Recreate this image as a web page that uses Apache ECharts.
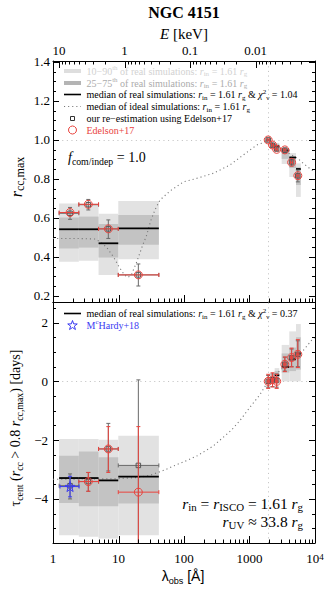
<!DOCTYPE html>
<html><head><meta charset="utf-8">
<script src="https://cdn.jsdelivr.net/npm/echarts@6/dist/echarts.min.js"></script>
<style>html,body{margin:0;padding:0;background:#fff}#c{width:332px;height:591px}</style>
</head><body><div id="c"></div>
<script>
// ================= DATA =================
// bins: 4 X-ray bins (5-10, 2.5-5, 1.25-2.5, 0.3-1.25 keV) + 6 UVOT bands (W2, M2, W1, U, B, V)
const binLo  = [1.24, 2.48, 4.96, 9.92, 1840, 2110, 2420, 3100, 4050, 5130];
const binHi  = [2.48, 4.96, 9.92, 41.3, 2010, 2400, 2850, 4050, 5130, 6070];
// top panel: r_cc,max simulation percentiles
const topP10 = [0.376, 0.380, 0.308, 0.388, 0.995, 0.964, 0.949, 0.877, 0.810, 0.708];
const topP25 = [0.444, 0.448, 0.397, 0.462, 0.997, 0.972, 0.959, 0.903, 0.856, 0.769];
const topP75 = [0.603, 0.607, 0.569, 0.615, 1.000, 0.985, 0.980, 0.952, 0.918, 0.860];
const topP90 = [0.674, 0.674, 0.621, 0.687, 1.000, 0.990, 0.985, 0.959, 0.933, 0.880];
const topMed = [0.542, 0.542, 0.470, 0.547, 1.000, 0.980, 0.969, 0.946, 0.910, 0.851];
// bottom panel: tau_cent simulation percentiles
const botP10 = [-5.24, -5.29, -5.35, -5.24, -0.02, -0.05, -0.02, 0.00, 0.00, 0.00];
const botP25 = [-4.14, -4.25, -4.25, -4.16, -0.01, 0.02, 0.08, 0.30, 0.35, 0.40];
const botP75 = [-2.53, -2.39, -2.58, -2.86, 0.01, 0.20, 0.35, 0.95, 1.15, 1.50];
const botP90 = [-1.96, -1.96, -1.99, -1.85, 0.02, 0.30, 0.45, 1.24, 1.70, 1.95];
const botMed = [-3.29, -3.29, -3.37, -3.24, 0.00, 0.12, 0.21, 0.49, 0.75, 0.94];
// observed points
const ptLam   = [1.82, 3.46, 6.99, 20.1, 1928, 2246, 2600, 3465, 4392, 5468];
const ptLamLo = [1.24, 2.48, 4.96, 9.92, 1860, 2160, 2500, 3330, 4220, 5260];
const ptLamHi = [2.48, 4.96, 9.92, 41.3, 2000, 2330, 2700, 3600, 4560, 5680];
// Edelson+17 (red)
const redR      = [0.628, 0.670, 0.544, 0.308, 1.000, 0.974, 0.952, 0.949, 0.885, 0.817];
const redTau    = [null, -3.41, -2.30, -3.77, 0.00, 0.05, 0.00, 0.58, 0.81, 0.92];
const redTauLo  = [null, -3.74, -3.10, -6.00, -0.24, -0.19, -0.24, 0.33, 0.49, 0.47];
const redTauHi  = [null, -3.10, -1.54, -1.54, 0.24, 0.29, 0.24, 0.83, 1.13, 1.42];
// our re-estimation (grey squares)
const greyR     = [0.624, 0.668, 0.544, 0.308, 1.000, 0.972, 0.954, 0.947, 0.887, 0.816];
const greyRLo   = [0.593, 0.641, 0.495, 0.251, 0.997, 0.964, 0.944, 0.933, 0.867, 0.785];
const greyRHi   = [0.654, 0.695, 0.590, 0.364, 1.003, 0.983, 0.962, 0.959, 0.903, 0.846];
const greyTau   = [-3.55, -3.41, -2.30, -2.86, 0.00, 0.05, 0.03, 0.58, 0.80, 0.92];
const greyTauLo = [-4.00, -3.74, -3.05, -5.80, -0.20, -0.18, -0.20, 0.35, 0.50, 0.50];
const greyTauHi = [-3.15, -3.10, -1.43, 0.05, 0.20, 0.25, 0.25, 0.82, 1.10, 1.38];
// McHardy+18 (blue star)
const mchLam = [1.82], mchLamLo = [1.28], mchLamHi = [2.50];
const mchTau = [-3.58], mchTauLo = [-3.93], mchTauHi = [-3.23];
// ideal simulations (dotted)
const idealLamTop = [1, 2, 3, 4.4, 5.2, 6.6, 8.4, 10.2, 12.3, 13.9, 15.7, 18.7, 23.5, 27, 31, 36, 43, 61, 98, 156, 280, 504, 804, 1288, 1830, 1928, 2246, 2600, 3465, 4392, 5468, 6610, 8900, 10000];
const idealRTop   = [0.495, 0.495, 0.494, 0.492, 0.479, 0.449, 0.400, 0.349, 0.308, 0.295, 0.308, 0.369, 0.462, 0.513, 0.585, 0.641, 0.692, 0.738, 0.785, 0.803, 0.829, 0.872, 0.923, 0.974, 0.993, 1.000, 0.985, 0.969, 0.944, 0.923, 0.905, 0.880, 0.846, 0.836];
const idealLamBot = [1, 5, 10, 20, 30, 50, 80, 120, 160, 280, 535, 716, 1018, 1446, 1928, 2246, 2600, 3465, 4392, 5250, 6610, 8900, 10000];
const idealTauBot = [-3.33, -3.32, -3.31, -3.27, -3.20, -3.02, -2.82, -2.66, -2.53, -2.20, -1.65, -1.33, -0.88, -0.45, 0.00, 0.13, 0.27, 0.52, 0.70, 0.86, 1.05, 1.40, 1.50];
const refLam = 1928, refR = 1.0, refTau = 0;
// axes / ticks
const lamMin = 1, lamMax = 10000;
const eMin = 12.398 / lamMax, eMax = 12.398 / lamMin;
const rMin = 0.169, rMax = 1.405, tauMin = -5.5, tauMax = 2.7;
const lamMajor = [1, 10, 100, 1000, 10000];
const lamMinor = [2,3,4,5,6,7,8,9,20,30,40,50,60,70,80,90,200,300,400,500,600,700,800,900,2000,3000,4000,5000,6000,7000,8000,9000];
const eMajor = [0.01, 0.1, 1, 10];
const eMinor = [0.002,0.003,0.004,0.005,0.006,0.007,0.008,0.009,0.02,0.03,0.04,0.05,0.06,0.07,0.08,0.09,0.2,0.3,0.4,0.5,0.6,0.7,0.8,0.9,2,3,4,5,6,7,8,9];
const rMajor = [0.2, 0.4, 0.6, 0.8, 1.0, 1.2, 1.4];
const rMinor = [0.25,0.3,0.35,0.45,0.5,0.55,0.65,0.7,0.75,0.85,0.9,0.95,1.05,1.1,1.15,1.25,1.3,1.35];
const tauMajor = [-4, -2, 0, 2];
const tauMinor = [-5.5,-5,-4.5,-3.5,-3,-2.5,-1.5,-1,-0.5,0.5,1,1.5,2.5];

// ================= STYLE =================
const SERIF = '"Liberation Serif", "Times New Roman", serif';
const SANS = '"Liberation Sans", Arial, sans-serif';
const RED = '#e9443e', BLUE = '#3a3af2', LIGHT = '#e2e2e2', DARK = '#c3c3c3', GREY = '#6a6a6a';

function rich(size, color, family, subRatio) {
  family = family || SERIF;
  const lh = Math.round(size * 1.25);
  const s = Math.round(size * (subRatio || 0.7) * 10) / 10;
  const sl = Math.round(size * 0.55);
  const base = {fontFamily: family, color: color, fill: color};
  return {
    t:  Object.assign({}, base, {fontSize: size, lineHeight: lh, verticalAlign: 'middle'}),
    it: Object.assign({}, base, {fontSize: size, lineHeight: lh, fontStyle: 'italic', verticalAlign: 'middle'}),
    b:  Object.assign({}, base, {fontSize: size, lineHeight: lh, fontWeight: 'bold', verticalAlign: 'middle'}),
    sb: Object.assign({}, base, {fontSize: s, lineHeight: sl, verticalAlign: 'bottom'}),
    sp: Object.assign({}, base, {fontSize: s, lineHeight: sl, verticalAlign: 'top'})
  };
}

// ================= SERIES BUILDERS =================
function bandSeries(xi, yi, lo, hi, ylo, yhi, color, z) {
  return {
    type: 'custom', xAxisIndex: xi, yAxisIndex: yi, z: z, silent: true, clip: true,
    encode: {x: [0, 1], y: [2, 3]},
    data: lo.map((v, i) => [v, hi[i], ylo[i], yhi[i]]),
    renderItem: function (params, api) {
      const a = api.coord([api.value(0), api.value(3)]);
      const b = api.coord([api.value(1), api.value(2)]);
      return {type: 'rect', shape: {x: a[0], y: a[1], width: b[0] - a[0], height: b[1] - a[1]}, style: {fill: color}};
    }
  };
}
function medSeries(xi, yi, lo, hi, y, color, w, z) {
  return {
    type: 'custom', xAxisIndex: xi, yAxisIndex: yi, z: z, silent: true, clip: true,
    encode: {x: [0, 1], y: 2},
    data: lo.map((v, i) => [v, hi[i], y[i]]),
    renderItem: function (params, api) {
      const a = api.coord([api.value(0), api.value(2)]);
      const b = api.coord([api.value(1), api.value(2)]);
      return {type: 'line', shape: {x1: a[0], y1: a[1], x2: b[0], y2: b[1]}, style: {stroke: color, lineWidth: w}};
    }
  };
}
function errSeries(xi, yi, x, xl, xh, y, yl, yh, color, z) {
  const rows = [];
  x.forEach((v, i) => { if (y[i] !== null) rows.push([v, xl[i], xh[i], y[i], yl[i], yh[i]]); });
  const cap = 2;
  return {
    type: 'custom', xAxisIndex: xi, yAxisIndex: yi, z: z, silent: true, clip: true,
    encode: {x: [0, 1, 2], y: [3, 4, 5]},
    data: rows,
    renderItem: function (params, api) {
      const c = api.coord([api.value(0), api.value(3)]);
      const st = {stroke: color, lineWidth: 1};
      const ch = [];
      if (api.value(1) !== api.value(2)) {
        const a = api.coord([api.value(1), api.value(3)]), b = api.coord([api.value(2), api.value(3)]);
        ch.push({type: 'line', shape: {x1: a[0], y1: c[1], x2: b[0], y2: c[1]}, style: st});
        ch.push({type: 'line', shape: {x1: a[0], y1: c[1] - cap, x2: a[0], y2: c[1] + cap}, style: st});
        ch.push({type: 'line', shape: {x1: b[0], y1: c[1] - cap, x2: b[0], y2: c[1] + cap}, style: st});
      }
      if (api.value(4) !== api.value(5)) {
        const a = api.coord([api.value(0), api.value(4)]), b = api.coord([api.value(0), api.value(5)]);
        ch.push({type: 'line', shape: {x1: c[0], y1: a[1], x2: c[0], y2: b[1]}, style: st});
        ch.push({type: 'line', shape: {x1: c[0] - cap, y1: a[1], x2: c[0] + cap, y2: a[1]}, style: st});
        ch.push({type: 'line', shape: {x1: c[0] - cap, y1: b[1], x2: c[0] + cap, y2: b[1]}, style: st});
      }
      return {type: 'group', children: ch};
    }
  };
}
function pointSeries(xi, yi, x, y, symbol, size, color, z) {
  const rows = [];
  x.forEach((v, i) => { if (y[i] !== null) rows.push([v, y[i]]); });
  return {
    type: 'scatter', xAxisIndex: xi, yAxisIndex: yi, z: z, silent: true,
    symbol: symbol, symbolSize: size, data: rows,
    itemStyle: {color: 'rgba(0,0,0,0)', borderColor: color, borderWidth: 1, opacity: 1}
  };
}
function tickSeries(xi, yi, vals, axis, sides, len, ref) {
  return {
    type: 'custom', xAxisIndex: xi, yAxisIndex: yi, z: 30, silent: true,
    encode: {x: 0, y: 1},
    data: vals.map(v => axis === 'x' ? [v, ref] : [ref, v]),
    renderItem: function (params, api) {
      const cs = params.coordSys;
      const p = api.coord([api.value(0), api.value(1)]);
      const st = {stroke: '#000', lineWidth: 1};
      const ch = [];
      if (axis === 'x') {
        const x = Math.round(p[0]) + 0.5;
        if (sides.indexOf('b') >= 0) ch.push({type: 'line', shape: {x1: x, y1: cs.y + cs.height, x2: x, y2: cs.y + cs.height - len}, style: st});
        if (sides.indexOf('t') >= 0) ch.push({type: 'line', shape: {x1: x, y1: cs.y, x2: x, y2: cs.y + len}, style: st});
      } else {
        const y = Math.round(p[1]) + 0.5;
        if (sides.indexOf('l') >= 0) ch.push({type: 'line', shape: {x1: cs.x, y1: y, x2: cs.x + len, y2: y}, style: st});
        if (sides.indexOf('r') >= 0) ch.push({type: 'line', shape: {x1: cs.x + cs.width, y1: y, x2: cs.x + cs.width - len, y2: y}, style: st});
      }
      return {type: 'group', children: ch};
    }
  };
}
function pairs(a, b) { return a.map((v, i) => [v, b[i]]); }

const starPath = (function () {
  let d = '';
  for (let k = 0; k < 10; k++) {
    const r = k % 2 === 0 ? 50 : 20;
    const ang = -Math.PI / 2 + k * Math.PI / 5;
    d += (k === 0 ? 'M' : 'L') + (50 + r * Math.cos(ang)).toFixed(2) + ',' + (50 + r * Math.sin(ang)).toFixed(2);
  }
  return 'path://' + d + 'Z';
})();
function starPoints(cx, cy, R) {
  const pts = [];
  for (let k = 0; k < 10; k++) {
    const r = k % 2 === 0 ? R : R * 0.4;
    const ang = -Math.PI / 2 + k * Math.PI / 5;
    pts.push([cx + r * Math.cos(ang), cy + r * Math.sin(ang)]);
  }
  return pts;
}

// ================= AXES =================
const frameLine = {show: true, onZero: false, lineStyle: {color: '#000', width: 1}};
const tickLabel = {fontFamily: SERIF, fontSize: 13, color: '#000'};
function xLog(grid, pos, min, max, inverse, label) {
  return {
    type: 'log', logBase: 10, gridIndex: grid, position: pos, min: min, max: max, inverse: !!inverse,
    axisLine: frameLine, axisTick: {show: false}, splitLine: {show: false},
    axisLabel: label || {show: false}
  };
}
function yVal(grid, pos, min, max, interval, label) {
  const ax = {
    type: 'value', gridIndex: grid, position: pos, min: min, max: max,
    axisLine: frameLine, axisTick: {show: false}, splitLine: {show: false},
    axisLabel: label || {show: false}
  };
  if (interval) ax.interval = interval;
  return ax;
}
const lamLabel = Object.assign({}, tickLabel, {
  show: true, margin: 9,
  formatter: function (v) {
    const e = Math.round(Math.log10(v));
    return e === 4 ? '{n|10}{s|4}' : String(Math.pow(10, e));
  },
  rich: {n: {fontFamily: SERIF, fontSize: 13, color: '#000'}, s: {fontFamily: SERIF, fontSize: 9, color: '#000', verticalAlign: 'top', lineHeight: 7}}
});
const eLabel = Object.assign({}, tickLabel, {
  show: true, margin: 4, showMinLabel: false, showMaxLabel: false,
  formatter: function (v) {
    const e = Math.round(Math.log10(v));
    return e >= 0 ? String(Math.pow(10, e)) : Math.pow(10, e).toFixed(-e);
  }
});
const rLabel = Object.assign({}, tickLabel, {show: true, margin: 3, customValues: rMajor, formatter: v => v.toFixed(1)});
const tauLabel = Object.assign({}, tickLabel, {
  show: true, margin: 5,
  formatter: function (v) {
    if (Math.abs(v / 2 - Math.round(v / 2)) > 1e-6) return '';
    const n = Math.round(v);
    return n < 0 ? '\u2212' + Math.abs(n) : String(n);
  }
});

// ================= OPTION =================
const series = [];
// ----- top panel (x 0, y 0) -----
series.push(bandSeries(0, 0, binLo, binHi, topP10, topP90, LIGHT, 1));
series.push(bandSeries(0, 0, binLo, binHi, topP25, topP75, DARK, 2));
series.push({
  type: 'line', xAxisIndex: 0, yAxisIndex: 0, z: 3, silent: true, symbol: 'none', clip: true,
  data: pairs(idealLamTop, idealRTop),
  lineStyle: {color: '#777', width: 1.1, type: [1.1, 3]},
  markLine: {silent: true, symbol: ['none', 'none'], label: {show: false}, animation: false,
    lineStyle: {color: '#c4c4c4', width: 1, type: [1.1, 3.5]},
    data: [{yAxis: refR}, {xAxis: refLam}]}
});
series.push(medSeries(0, 0, binLo, binHi, topMed, '#000', 1.8, 4));
series.push(errSeries(0, 0, ptLam, ptLamLo, ptLamHi, greyR, greyRLo, greyRHi, GREY, 5));
series.push(errSeries(0, 0, ptLam, ptLamLo, ptLamHi, redR, redR, redR, RED, 7));
series.push(pointSeries(0, 0, ptLam, greyR, 'rect', 4.5, '#555', 6));
series.push(pointSeries(0, 0, ptLam, redR, 'circle', 8, RED, 8));
// ----- bottom panel (x 2, y 2) -----
series.push(bandSeries(2, 2, binLo, binHi, botP10, botP90, LIGHT, 1));
series.push(bandSeries(2, 2, binLo, binHi, botP25, botP75, DARK, 2));
series.push({
  type: 'line', xAxisIndex: 2, yAxisIndex: 2, z: 3, silent: true, symbol: 'none', clip: true,
  data: pairs(idealLamBot, idealTauBot),
  lineStyle: {color: '#777', width: 1.1, type: [1.1, 3]},
  markLine: {silent: true, symbol: ['none', 'none'], label: {show: false}, animation: false,
    lineStyle: {color: '#c4c4c4', width: 1, type: [1.1, 3.5]},
    data: [{yAxis: refTau}, {xAxis: refLam}]}
});
series.push(medSeries(2, 2, binLo, binHi, botMed, '#000', 1.8, 4));
series.push(errSeries(2, 2, ptLam, ptLamLo, ptLamHi, greyTau, greyTauLo, greyTauHi, GREY, 5));
series.push(errSeries(2, 2, ptLam, ptLamLo, ptLamHi, redTau, redTauLo, redTauHi, RED, 7));
series.push(errSeries(2, 2, mchLam, mchLamLo, mchLamHi, mchTau, mchTauLo, mchTauHi, BLUE, 9));
series.push(pointSeries(2, 2, ptLam, greyTau, 'rect', 4.5, '#555', 6));
series.push(pointSeries(2, 2, ptLam, redTau, 'circle', 8, RED, 8));
series.push(pointSeries(2, 2, mchLam, mchTau, starPath, 10, BLUE, 10));
// ----- ticks -----
series.push(tickSeries(0, 0, lamMajor, 'x', 'b', 7, rMin));
series.push(tickSeries(0, 0, lamMinor, 'x', 'b', 3.5, rMin));
series.push(tickSeries(1, 0, eMajor, 'x', 't', 7, rMin));
series.push(tickSeries(1, 0, eMinor, 'x', 't', 3.5, rMin));
series.push(tickSeries(0, 0, rMajor, 'y', 'lr', 6, lamMin));
series.push(tickSeries(0, 0, rMinor, 'y', 'lr', 3, lamMin));
series.push(tickSeries(2, 2, lamMajor, 'x', 'b', 7, tauMin));
series.push(tickSeries(2, 2, lamMinor, 'x', 'b', 3.5, tauMin));
series.push(tickSeries(2, 2, tauMajor, 'y', 'lr', 6, lamMin));
series.push(tickSeries(2, 2, tauMinor, 'y', 'lr', 3, lamMin));

// ----- text & legend (graphic) -----
const LX0 = 64, LX1 = 81, LT = 86.5;
const g = [];
function txt(x, y, text, r, align, rot) {
  const el = {type: 'text', x: x, y: y, silent: true, z: 50,
    style: {text: text, rich: r, align: align || 'left', verticalAlign: 'middle'}};
  if (rot) el.rotation = rot;
  return el;
}
g.push(txt(184, 12, '{b|NGC 4151}', rich(16, '#000'), 'center'));
g.push(txt(184, 34, '{it|E}{t| [keV]}', rich(15, '#000'), 'center'));
g.push(txt(183, 576, '{t|\u03bb}{sb|obs}{t| [\u00c5]}', rich(14, '#000', SANS, 0.65), 'center'));
g.push(txt(16, 177, '{it|r}{sb|cc,max}', rich(16, '#000', SERIF, 0.75), 'center', Math.PI / 2));
g.push(txt(15, 428, '{t|\u03c4}{sb|cent}{t| (}{it|r}{sb|cc}{t| > 0.8 }{it|r}{sb|cc,max}{t|) [days]}', rich(14, '#000'), 'center', Math.PI / 2));
g.push(txt(68, 157, '{it|f}{sb|com/indep}{t| = 1.0}', rich(14, '#000'), 'left'));
g.push(txt(303, 503, '{it|r}{sb|in}{t| = }{it|r}{sb|ISCO}{t| = 1.61 }{it|r}{sb|g}', rich(15.5, '#000'), 'right'));
g.push(txt(303, 521, '{it|r}{sb|UV}{t| \u2248 33.8 }{it|r}{sb|g}', rich(15.5, '#000'), 'right'));
// top legend
const ly = [71, 83, 94.5, 106.5, 118.5, 130];
g.push({type: 'rect', silent: true, z: 50, shape: {x: LX0, y: ly[0] - 2, width: LX1 - LX0, height: 4}, style: {fill: '#dedede'}});
g.push(txt(LT, ly[0], '{t|10\u221290}{sp|th}{t| of real simulations: }{it|r}{sb|in}{t| = 1.61 }{it|r}{sb|g}', rich(10, '#d2d2d2'), 'left'));
g.push({type: 'rect', silent: true, z: 50, shape: {x: LX0, y: ly[1] - 2, width: LX1 - LX0, height: 4}, style: {fill: '#b4b4b4'}});
g.push(txt(LT, ly[1], '{t|25\u221275}{sp|th}{t| of real simulations: }{it|r}{sb|in}{t| = 1.61 }{it|r}{sb|g}', rich(10, '#ababab'), 'left'));
g.push({type: 'line', silent: true, z: 50, shape: {x1: LX0, y1: ly[2], x2: LX1, y2: ly[2]}, style: {stroke: '#000', lineWidth: 1.6}});
g.push(txt(LT, ly[2], '{t|median of real simulations: }{it|r}{sb|in}{t| = 1.61 }{it|r}{sb|g}{t| & }{it|\u03c7}{sp|2}{sb|\u03bd}{t| = 1.04}', rich(10, '#000'), 'left'));
g.push({type: 'line', silent: true, z: 50, shape: {x1: LX0, y1: ly[3], x2: LX1, y2: ly[3]}, style: {stroke: '#777', lineWidth: 1.1, lineDash: [1.1, 3]}});
g.push(txt(LT, ly[3], '{t|median of ideal simulations: }{it|r}{sb|in}{t| = 1.61 }{it|r}{sb|g}', rich(10, '#000'), 'left'));
g.push({type: 'rect', silent: true, z: 50, shape: {x: 70.5, y: ly[4] - 2, width: 4, height: 4}, style: {fill: 'none', stroke: '#333', lineWidth: 1}});
g.push(txt(LT, ly[4], '{t|our re\u2212estimation using Edelson+17}', rich(10, '#000'), 'left'));
g.push({type: 'circle', silent: true, z: 50, shape: {cx: 72.5, cy: ly[5], r: 4}, style: {fill: 'none', stroke: RED, lineWidth: 1}});
g.push(txt(LT, ly[5], '{t|Edelson+17}', rich(10, RED), 'left'));
// bottom legend
g.push({type: 'line', silent: true, z: 50, shape: {x1: LX0, y1: 313.5, x2: LX1, y2: 313.5}, style: {stroke: '#000', lineWidth: 1.6}});
g.push(txt(LT, 313.5, '{t|median of real simulations: }{it|r}{sb|in}{t| = 1.61 }{it|r}{sb|g}{t| & }{it|\u03c7}{sp|2}{sb|\u03bd}{t| = 0.37}', rich(10, '#000'), 'left'));
g.push({type: 'polygon', silent: true, z: 50, shape: {points: starPoints(72.5, 325.5, 5)}, style: {fill: 'none', stroke: BLUE, lineWidth: 1}});
g.push(txt(LT, 325, '{t|M}{sp|c}{t|Hardy+18}', rich(10, BLUE), 'left'));

const option = {
  animation: false,
  backgroundColor: '#fff',
  grid: [
    {left: 53, width: 262, top: 61, height: 241, show: false, outerBoundsMode: 'none', containLabel: false},
    {left: 53, width: 262, top: 302, height: 241, show: false, outerBoundsMode: 'none', containLabel: false}
  ],
  xAxis: [
    xLog(0, 'bottom', lamMin, lamMax, false),
    xLog(0, 'top', eMin, eMax, true, eLabel),
    xLog(1, 'bottom', lamMin, lamMax, false, lamLabel),
    xLog(1, 'top', lamMin, lamMax, false)
  ],
  yAxis: [
    yVal(0, 'left', rMin, rMax, null, rLabel),
    yVal(0, 'right', rMin, rMax, null),
    yVal(1, 'left', tauMin, tauMax, 0.5, tauLabel),
    yVal(1, 'right', tauMin, tauMax, 0.5)
  ],
  series: series,
  graphic: {elements: g}
};
const chart = echarts.init(document.getElementById('c'), null, {renderer: 'svg', width: 332, height: 591});
chart.setOption(option);
</script></body></html>
